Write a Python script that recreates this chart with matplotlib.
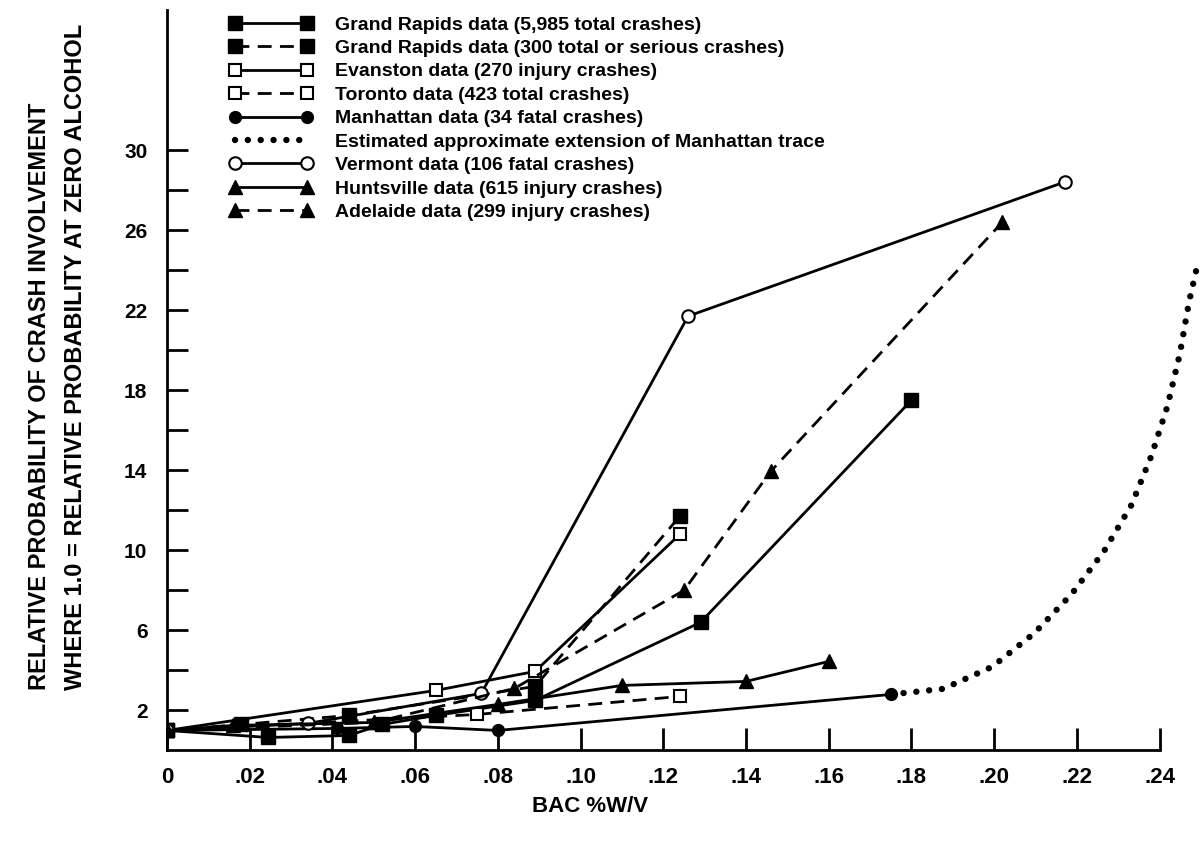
import matplotlib
matplotlib.use("Agg")
import matplotlib.pyplot as plt
from matplotlib.ticker import FixedLocator, FuncFormatter, NullFormatter

# BAC (%W/V) and relative probability of crash involvement
gr_total_bac = [0.0, 0.0245, 0.044, 0.052, 0.065, 0.089, 0.129, 0.18]
gr_total_prob = [1.0, 0.65, 0.75, 1.3, 1.75, 2.5, 6.4, 17.5]

gr_serious_bac = [0.0, 0.018, 0.044, 0.089, 0.124]
gr_serious_prob = [1.0, 1.3, 1.75, 3.2, 11.7]

evanston_bac = [0.0, 0.065, 0.089, 0.124]
evanston_prob = [1.0, 3.0, 3.95, 10.8]

toronto_bac = [0.0, 0.075, 0.124]
toronto_prob = [1.0, 1.8, 2.7]

manhattan_bac = [0.0, 0.041, 0.06, 0.08, 0.175]
manhattan_prob = [1.0, 1.1, 1.2, 1.0, 2.8]

# hand-drawn extension of the Manhattan trace
extension_bac = [0.175, 0.1877, 0.1995, 0.2097, 0.2187, 0.2265, 0.2332,
                 0.238, 0.2419, 0.2449, 0.2471, 0.2494]
extension_prob = [2.8, 3.08, 4.18, 5.86, 7.81, 9.94, 12.27,
                  14.72, 17.21, 19.83, 22.41, 24.5]

vermont_bac = [0.0, 0.034, 0.076, 0.126, 0.217]
vermont_prob = [1.0, 1.35, 2.85, 21.7, 28.4]

huntsville_bac = [0.0, 0.016, 0.05, 0.08, 0.11, 0.14, 0.16]
huntsville_prob = [1.0, 1.25, 1.4, 2.3, 3.25, 3.45, 4.45]

adelaide_bac = [0.0, 0.05, 0.084, 0.125, 0.146, 0.202]
adelaide_prob = [1.0, 1.4, 3.1, 8.0, 13.95, 26.4]

x_ticks = [0.0, 0.02, 0.04, 0.06, 0.08, 0.10, 0.12,
           0.14, 0.16, 0.18, 0.20, 0.22, 0.24]
y_major = [2, 6, 10, 14, 18, 22, 26, 30]
y_minor = [4, 8, 12, 16, 20, 24, 28]

FONT = ['Liberation Sans', 'DejaVu Sans']
DASHED = (0, (5, 3))


def bac_formatter(x, pos):
    """Write BAC ticks the old way: 0, .02, .04 ..."""
    if abs(x) < 1e-9:
        return '0'
    return f'{x:.2f}'[1:]


def main():
    fig = plt.figure(figsize=(12.01, 8.42), dpi=100)
    ax = fig.add_axes([0.139, 0.1087, 0.861, 0.8795])

    lw = 2.0
    ax.plot(gr_total_bac, gr_total_prob, color='black', lw=lw,
            marker='s', ms=10, mfc='black', mec='black',
            label='Grand Rapids data (5,985 total crashes)')
    ax.plot(gr_serious_bac, gr_serious_prob, color='black', lw=lw,
            ls=DASHED, marker='s', ms=10, mfc='black', mec='black',
            label='Grand Rapids data (300 total or serious crashes)')
    ax.plot(evanston_bac, evanston_prob, color='black', lw=lw,
            marker='s', ms=9, mfc='white', mec='black', mew=1.5,
            label='Evanston data (270 injury crashes)')
    ax.plot(toronto_bac, toronto_prob, color='black', lw=lw,
            ls=DASHED, marker='s', ms=9, mfc='white', mec='black', mew=1.5,
            label='Toronto data (423 total crashes)')
    ax.plot(manhattan_bac, manhattan_prob, color='black', lw=lw,
            marker='o', ms=8.5, mfc='black', mec='black',
            label='Manhattan data (34 fatal crashes)')
    ax.plot(extension_bac, extension_prob, color='black', lw=4.6,
            ls=(0, (0.01, 2.0)), dash_capstyle='round', clip_on=False,
            label='Estimated approximate extension of Manhattan trace')
    ax.plot(vermont_bac, vermont_prob, color='black', lw=lw,
            marker='o', ms=9, mfc='white', mec='black', mew=1.5,
            label='Vermont data (106 fatal crashes)')
    ax.plot(huntsville_bac, huntsville_prob, color='black', lw=lw,
            marker='^', ms=10, mfc='black', mec='black',
            label='Huntsville data (615 injury crashes)')
    ax.plot(adelaide_bac, adelaide_prob, color='black', lw=lw,
            ls=DASHED, marker='^', ms=10, mfc='black', mec='black',
            label='Adelaide data (299 injury crashes)')

    ax.set_xlim(0, 0.25)
    ax.set_ylim(0, 37)

    for side in ('top', 'right'):
        ax.spines[side].set_visible(False)
    ax.spines['left'].set_linewidth(2.0)
    ax.spines['bottom'].set_linewidth(2.0)
    ax.spines['bottom'].set_bounds(0, 0.24)

    ax.xaxis.set_major_locator(FixedLocator(x_ticks))
    ax.xaxis.set_major_formatter(FuncFormatter(bac_formatter))
    ax.yaxis.set_major_locator(FixedLocator(y_major))
    ax.yaxis.set_minor_locator(FixedLocator(y_minor))
    ax.yaxis.set_minor_formatter(NullFormatter())

    ax.tick_params(axis='x', direction='in', length=16, width=2.0, pad=12)
    ax.tick_params(axis='y', which='both', direction='in', length=15,
                   width=2.0, pad=14)
    for lab in ax.get_xticklabels():
        lab.set_family(FONT)
        lab.set_fontsize(16)
        lab.set_fontweight('bold')
    for lab in ax.get_yticklabels():
        lab.set_family(FONT)
        lab.set_fontsize(15)
        lab.set_fontweight('bold')

    fig.text(590 / 1201, 1 - 806 / 842, 'BAC %W/V', ha='center',
             va='center', family=FONT, fontsize=16, fontweight='bold')

    fig.text(0.033, 0.18, 'RELATIVE PROBABILITY OF CRASH INVOLVEMENT',
             rotation=90, ha='center', va='bottom', family=FONT,
             fontsize=17, fontweight='bold')
    fig.text(0.063, 0.18, 'WHERE 1.0 = RELATIVE PROBABILITY AT ZERO ALCOHOL',
             rotation=90, ha='center', va='bottom', family=FONT,
             fontsize=17, fontweight='bold')

    leg = ax.legend(loc='upper left', bbox_to_anchor=(0.191, 0.981),
                    bbox_transform=fig.transFigure, frameon=False,
                    numpoints=2, handlelength=4.3, handletextpad=1.15,
                    labelspacing=0.3, borderpad=0, borderaxespad=0,
                    prop={'family': FONT, 'weight': 'bold', 'size': 14})
    leg.set_zorder(5)

    fig.savefig('out.png', dpi=100)


if __name__ == '__main__':
    main()
